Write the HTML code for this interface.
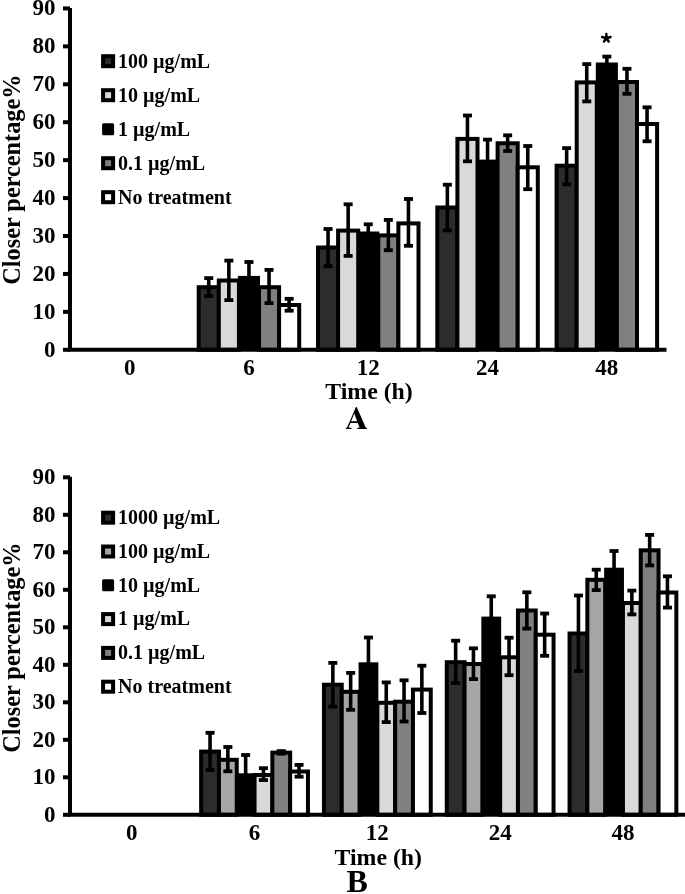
<!DOCTYPE html>
<html><head><meta charset="utf-8"><style>
html,body{margin:0;padding:0;background:#fff;}
svg{display:block;will-change:transform;}
text{font-family:"Liberation Serif", serif;font-weight:bold;fill:#000;}
</style></head><body>
<svg width="685" height="894" viewBox="0 0 685 894">
<rect width="685" height="894" fill="#fff"/>
<rect x="198.70" y="287.20" width="20.10" height="62.60" fill="#2c2c2c" stroke="#000" stroke-width="4"/>
<rect x="218.80" y="280.50" width="20.10" height="69.30" fill="#d9d9d9" stroke="#000" stroke-width="4"/>
<rect x="238.90" y="276.90" width="20.10" height="72.90" fill="#000000" stroke="#000" stroke-width="2"/>
<rect x="259.00" y="287.20" width="20.10" height="62.60" fill="#808080" stroke="#000" stroke-width="4"/>
<rect x="279.10" y="305.00" width="20.10" height="44.80" fill="#ffffff" stroke="#000" stroke-width="4"/>
<line x1="208.75" y1="278.10" x2="208.75" y2="296.10" stroke="#000" stroke-width="3.6"/>
<line x1="204.25" y1="278.10" x2="213.25" y2="278.10" stroke="#000" stroke-width="3.8"/>
<line x1="204.25" y1="296.10" x2="213.25" y2="296.10" stroke="#000" stroke-width="3.8"/>
<line x1="228.85" y1="260.60" x2="228.85" y2="300.10" stroke="#000" stroke-width="3.6"/>
<line x1="224.35" y1="260.60" x2="233.35" y2="260.60" stroke="#000" stroke-width="3.8"/>
<line x1="224.35" y1="300.10" x2="233.35" y2="300.10" stroke="#000" stroke-width="3.8"/>
<line x1="248.95" y1="262.00" x2="248.95" y2="293.50" stroke="#000" stroke-width="3.6"/>
<line x1="244.45" y1="262.00" x2="253.45" y2="262.00" stroke="#000" stroke-width="3.8"/>
<line x1="244.45" y1="293.50" x2="253.45" y2="293.50" stroke="#000" stroke-width="3.8"/>
<line x1="269.05" y1="269.90" x2="269.05" y2="303.10" stroke="#000" stroke-width="3.6"/>
<line x1="264.55" y1="269.90" x2="273.55" y2="269.90" stroke="#000" stroke-width="3.8"/>
<line x1="264.55" y1="303.10" x2="273.55" y2="303.10" stroke="#000" stroke-width="3.8"/>
<line x1="289.15" y1="298.80" x2="289.15" y2="310.70" stroke="#000" stroke-width="3.6"/>
<line x1="284.65" y1="298.80" x2="293.65" y2="298.80" stroke="#000" stroke-width="3.8"/>
<line x1="284.65" y1="310.70" x2="293.65" y2="310.70" stroke="#000" stroke-width="3.8"/>
<rect x="318.00" y="247.50" width="20.10" height="102.30" fill="#2c2c2c" stroke="#000" stroke-width="4"/>
<rect x="338.10" y="230.60" width="20.10" height="119.20" fill="#d9d9d9" stroke="#000" stroke-width="4"/>
<rect x="358.20" y="232.50" width="20.10" height="117.30" fill="#000000" stroke="#000" stroke-width="2"/>
<rect x="378.30" y="235.40" width="20.10" height="114.40" fill="#808080" stroke="#000" stroke-width="4"/>
<rect x="398.40" y="223.40" width="20.10" height="126.40" fill="#ffffff" stroke="#000" stroke-width="4"/>
<line x1="328.05" y1="229.00" x2="328.05" y2="266.20" stroke="#000" stroke-width="3.6"/>
<line x1="323.55" y1="229.00" x2="332.55" y2="229.00" stroke="#000" stroke-width="3.8"/>
<line x1="323.55" y1="266.20" x2="332.55" y2="266.20" stroke="#000" stroke-width="3.8"/>
<line x1="348.15" y1="204.30" x2="348.15" y2="255.90" stroke="#000" stroke-width="3.6"/>
<line x1="343.65" y1="204.30" x2="352.65" y2="204.30" stroke="#000" stroke-width="3.8"/>
<line x1="343.65" y1="255.90" x2="352.65" y2="255.90" stroke="#000" stroke-width="3.8"/>
<line x1="368.25" y1="224.30" x2="368.25" y2="242.70" stroke="#000" stroke-width="3.6"/>
<line x1="363.75" y1="224.30" x2="372.75" y2="224.30" stroke="#000" stroke-width="3.8"/>
<line x1="363.75" y1="242.70" x2="372.75" y2="242.70" stroke="#000" stroke-width="3.8"/>
<line x1="388.35" y1="219.90" x2="388.35" y2="250.20" stroke="#000" stroke-width="3.6"/>
<line x1="383.85" y1="219.90" x2="392.85" y2="219.90" stroke="#000" stroke-width="3.8"/>
<line x1="383.85" y1="250.20" x2="392.85" y2="250.20" stroke="#000" stroke-width="3.8"/>
<line x1="408.45" y1="199.00" x2="408.45" y2="245.80" stroke="#000" stroke-width="3.6"/>
<line x1="403.95" y1="199.00" x2="412.95" y2="199.00" stroke="#000" stroke-width="3.8"/>
<line x1="403.95" y1="245.80" x2="412.95" y2="245.80" stroke="#000" stroke-width="3.8"/>
<rect x="437.30" y="207.50" width="20.10" height="142.30" fill="#2c2c2c" stroke="#000" stroke-width="4"/>
<rect x="457.40" y="138.90" width="20.10" height="210.90" fill="#d9d9d9" stroke="#000" stroke-width="4"/>
<rect x="477.50" y="160.60" width="20.10" height="189.20" fill="#000000" stroke="#000" stroke-width="2"/>
<rect x="497.60" y="143.30" width="20.10" height="206.50" fill="#808080" stroke="#000" stroke-width="4"/>
<rect x="517.70" y="167.30" width="20.10" height="182.50" fill="#ffffff" stroke="#000" stroke-width="4"/>
<line x1="447.35" y1="184.70" x2="447.35" y2="230.40" stroke="#000" stroke-width="3.6"/>
<line x1="442.85" y1="184.70" x2="451.85" y2="184.70" stroke="#000" stroke-width="3.8"/>
<line x1="442.85" y1="230.40" x2="451.85" y2="230.40" stroke="#000" stroke-width="3.8"/>
<line x1="467.45" y1="115.50" x2="467.45" y2="161.30" stroke="#000" stroke-width="3.6"/>
<line x1="462.95" y1="115.50" x2="471.95" y2="115.50" stroke="#000" stroke-width="3.8"/>
<line x1="462.95" y1="161.30" x2="471.95" y2="161.30" stroke="#000" stroke-width="3.8"/>
<line x1="487.55" y1="139.60" x2="487.55" y2="182.70" stroke="#000" stroke-width="3.6"/>
<line x1="483.05" y1="139.60" x2="492.05" y2="139.60" stroke="#000" stroke-width="3.8"/>
<line x1="483.05" y1="182.70" x2="492.05" y2="182.70" stroke="#000" stroke-width="3.8"/>
<line x1="507.65" y1="135.30" x2="507.65" y2="151.00" stroke="#000" stroke-width="3.6"/>
<line x1="503.15" y1="135.30" x2="512.15" y2="135.30" stroke="#000" stroke-width="3.8"/>
<line x1="503.15" y1="151.00" x2="512.15" y2="151.00" stroke="#000" stroke-width="3.8"/>
<line x1="527.75" y1="146.00" x2="527.75" y2="189.20" stroke="#000" stroke-width="3.6"/>
<line x1="523.25" y1="146.00" x2="532.25" y2="146.00" stroke="#000" stroke-width="3.8"/>
<line x1="523.25" y1="189.20" x2="532.25" y2="189.20" stroke="#000" stroke-width="3.8"/>
<rect x="556.60" y="165.70" width="20.10" height="184.10" fill="#2c2c2c" stroke="#000" stroke-width="4"/>
<rect x="576.70" y="82.40" width="20.10" height="267.40" fill="#d9d9d9" stroke="#000" stroke-width="4"/>
<rect x="596.80" y="63.50" width="20.10" height="286.30" fill="#000000" stroke="#000" stroke-width="2"/>
<rect x="616.90" y="82.00" width="20.10" height="267.80" fill="#808080" stroke="#000" stroke-width="4"/>
<rect x="637.00" y="124.00" width="20.10" height="225.80" fill="#ffffff" stroke="#000" stroke-width="4"/>
<line x1="566.65" y1="148.10" x2="566.65" y2="184.40" stroke="#000" stroke-width="3.6"/>
<line x1="562.15" y1="148.10" x2="571.15" y2="148.10" stroke="#000" stroke-width="3.8"/>
<line x1="562.15" y1="184.40" x2="571.15" y2="184.40" stroke="#000" stroke-width="3.8"/>
<line x1="586.75" y1="64.10" x2="586.75" y2="101.40" stroke="#000" stroke-width="3.6"/>
<line x1="582.25" y1="64.10" x2="591.25" y2="64.10" stroke="#000" stroke-width="3.8"/>
<line x1="582.25" y1="101.40" x2="591.25" y2="101.40" stroke="#000" stroke-width="3.8"/>
<line x1="606.85" y1="56.60" x2="606.85" y2="72.70" stroke="#000" stroke-width="3.6"/>
<line x1="602.35" y1="56.60" x2="611.35" y2="56.60" stroke="#000" stroke-width="3.8"/>
<line x1="602.35" y1="72.70" x2="611.35" y2="72.70" stroke="#000" stroke-width="3.8"/>
<line x1="626.95" y1="68.80" x2="626.95" y2="93.80" stroke="#000" stroke-width="3.6"/>
<line x1="622.45" y1="68.80" x2="631.45" y2="68.80" stroke="#000" stroke-width="3.8"/>
<line x1="622.45" y1="93.80" x2="631.45" y2="93.80" stroke="#000" stroke-width="3.8"/>
<line x1="647.05" y1="107.30" x2="647.05" y2="141.30" stroke="#000" stroke-width="3.6"/>
<line x1="642.55" y1="107.30" x2="651.55" y2="107.30" stroke="#000" stroke-width="3.8"/>
<line x1="642.55" y1="141.30" x2="651.55" y2="141.30" stroke="#000" stroke-width="3.8"/>
<line x1="70" y1="7.90" x2="70" y2="349.80" stroke="#000" stroke-width="4"/>
<line x1="68.00" y1="349.8" x2="666.5" y2="349.8" stroke="#000" stroke-width="4"/>
<line x1="63" y1="349.80" x2="70" y2="349.80" stroke="#000" stroke-width="4"/>
<text x="55.5" y="356.80" text-anchor="end" font-size="23">0</text>
<line x1="63" y1="311.87" x2="70" y2="311.87" stroke="#000" stroke-width="4"/>
<text x="55.5" y="318.87" text-anchor="end" font-size="23">10</text>
<line x1="63" y1="273.94" x2="70" y2="273.94" stroke="#000" stroke-width="4"/>
<text x="55.5" y="280.94" text-anchor="end" font-size="23">20</text>
<line x1="63" y1="236.01" x2="70" y2="236.01" stroke="#000" stroke-width="4"/>
<text x="55.5" y="243.01" text-anchor="end" font-size="23">30</text>
<line x1="63" y1="198.08" x2="70" y2="198.08" stroke="#000" stroke-width="4"/>
<text x="55.5" y="205.08" text-anchor="end" font-size="23">40</text>
<line x1="63" y1="160.15" x2="70" y2="160.15" stroke="#000" stroke-width="4"/>
<text x="55.5" y="167.15" text-anchor="end" font-size="23">50</text>
<line x1="63" y1="122.22" x2="70" y2="122.22" stroke="#000" stroke-width="4"/>
<text x="55.5" y="129.22" text-anchor="end" font-size="23">60</text>
<line x1="63" y1="84.29" x2="70" y2="84.29" stroke="#000" stroke-width="4"/>
<text x="55.5" y="91.29" text-anchor="end" font-size="23">70</text>
<line x1="63" y1="46.36" x2="70" y2="46.36" stroke="#000" stroke-width="4"/>
<text x="55.5" y="53.36" text-anchor="end" font-size="23">80</text>
<line x1="63" y1="8.43" x2="70" y2="8.43" stroke="#000" stroke-width="4"/>
<text x="55.5" y="15.43" text-anchor="end" font-size="23">90</text>
<text x="129.65" y="374.5" text-anchor="middle" font-size="23">0</text>
<text x="248.95" y="374.5" text-anchor="middle" font-size="23">6</text>
<text x="368.25" y="374.5" text-anchor="middle" font-size="23">12</text>
<text x="487.55" y="374.5" text-anchor="middle" font-size="23">24</text>
<text x="606.85" y="374.5" text-anchor="middle" font-size="23">48</text>
<rect x="103.10" y="56.20" width="10.00" height="10.00" fill="#2c2c2c" stroke="#000" stroke-width="4"/>
<text x="118.1" y="67.90" font-size="20">100 µg/mL</text>
<rect x="103.10" y="90.20" width="10.00" height="10.00" fill="#d9d9d9" stroke="#000" stroke-width="4"/>
<text x="118.1" y="101.90" font-size="20">10 µg/mL</text>
<rect x="102.10" y="123.20" width="12" height="12" rx="1.5" fill="#000"/>
<text x="118.1" y="135.90" font-size="20">1 µg/mL</text>
<rect x="103.10" y="158.20" width="10.00" height="10.00" fill="#808080" stroke="#000" stroke-width="4"/>
<text x="118.1" y="169.90" font-size="20">0.1 µg/mL</text>
<rect x="103.10" y="192.20" width="10.00" height="10.00" fill="#ffffff" stroke="#000" stroke-width="4"/>
<text x="118.1" y="203.90" font-size="20">No treatment</text>
<text x="369" y="399.0" text-anchor="middle" font-size="23.8">Time (h)</text>
<text transform="translate(20.4,179.6) rotate(-90)" text-anchor="middle" font-size="24.3">Closer percentage%</text>
<path fill="#000" fill-rule="evenodd" d="M355.9,407.0 L356.7,407.0 L365.7,427.6 L366.9,428.1 L366.9,428.9 L357.2,428.9 L357.2,428.1 L359.6,427.6 L357.7,422.9 L350.5,422.9 L348.6,427.6 L351.5,428.1 L351.5,428.9 L345.9,428.9 L345.9,428.1 L347.1,427.6 Z M354.3,413.6 L357.1,421.3 L351.14,421.3 Z"/>
<path d="M606.35,38.30 L606.35,33.90 M606.35,38.30 L610.53,36.94 M606.35,38.30 L608.70,41.54 M606.35,38.30 L604.00,41.54 M606.35,38.30 L602.17,36.94" stroke="#000" stroke-width="2.5" stroke-linecap="round" fill="none"/>
<rect x="201.15" y="751.60" width="17.80" height="63.20" fill="#2c2c2c" stroke="#000" stroke-width="4"/>
<rect x="218.95" y="759.80" width="17.80" height="55.00" fill="#a6a6a6" stroke="#000" stroke-width="4"/>
<rect x="236.75" y="774.30" width="17.80" height="40.50" fill="#000000" stroke="#000" stroke-width="2"/>
<rect x="254.55" y="775.00" width="17.80" height="39.80" fill="#d9d9d9" stroke="#000" stroke-width="4"/>
<rect x="272.35" y="752.60" width="17.80" height="62.20" fill="#808080" stroke="#000" stroke-width="4"/>
<rect x="290.15" y="771.50" width="17.80" height="43.30" fill="#ffffff" stroke="#000" stroke-width="4"/>
<line x1="210.05" y1="732.80" x2="210.05" y2="770.00" stroke="#000" stroke-width="3.6"/>
<line x1="205.55" y1="732.80" x2="214.55" y2="732.80" stroke="#000" stroke-width="3.8"/>
<line x1="205.55" y1="770.00" x2="214.55" y2="770.00" stroke="#000" stroke-width="3.8"/>
<line x1="227.85" y1="747.00" x2="227.85" y2="771.30" stroke="#000" stroke-width="3.6"/>
<line x1="223.35" y1="747.00" x2="232.35" y2="747.00" stroke="#000" stroke-width="3.8"/>
<line x1="223.35" y1="771.30" x2="232.35" y2="771.30" stroke="#000" stroke-width="3.8"/>
<line x1="245.65" y1="755.00" x2="245.65" y2="794.70" stroke="#000" stroke-width="3.6"/>
<line x1="241.15" y1="755.00" x2="250.15" y2="755.00" stroke="#000" stroke-width="3.8"/>
<line x1="241.15" y1="794.70" x2="250.15" y2="794.70" stroke="#000" stroke-width="3.8"/>
<line x1="263.45" y1="768.20" x2="263.45" y2="780.10" stroke="#000" stroke-width="3.6"/>
<line x1="258.95" y1="768.20" x2="267.95" y2="768.20" stroke="#000" stroke-width="3.8"/>
<line x1="258.95" y1="780.10" x2="267.95" y2="780.10" stroke="#000" stroke-width="3.8"/>
<line x1="281.25" y1="751.10" x2="281.25" y2="753.70" stroke="#000" stroke-width="3.6"/>
<line x1="276.75" y1="751.10" x2="285.75" y2="751.10" stroke="#000" stroke-width="3.8"/>
<line x1="276.75" y1="753.70" x2="285.75" y2="753.70" stroke="#000" stroke-width="3.8"/>
<line x1="299.05" y1="764.90" x2="299.05" y2="776.70" stroke="#000" stroke-width="3.6"/>
<line x1="294.55" y1="764.90" x2="303.55" y2="764.90" stroke="#000" stroke-width="3.8"/>
<line x1="294.55" y1="776.70" x2="303.55" y2="776.70" stroke="#000" stroke-width="3.8"/>
<rect x="323.95" y="684.70" width="17.80" height="130.10" fill="#2c2c2c" stroke="#000" stroke-width="4"/>
<rect x="341.75" y="691.80" width="17.80" height="123.00" fill="#a6a6a6" stroke="#000" stroke-width="4"/>
<rect x="359.55" y="663.30" width="17.80" height="151.50" fill="#000000" stroke="#000" stroke-width="2"/>
<rect x="377.35" y="702.80" width="17.80" height="112.00" fill="#d9d9d9" stroke="#000" stroke-width="4"/>
<rect x="395.15" y="701.70" width="17.80" height="113.10" fill="#808080" stroke="#000" stroke-width="4"/>
<rect x="412.95" y="689.60" width="17.80" height="125.20" fill="#ffffff" stroke="#000" stroke-width="4"/>
<line x1="332.85" y1="662.90" x2="332.85" y2="706.60" stroke="#000" stroke-width="3.6"/>
<line x1="328.35" y1="662.90" x2="337.35" y2="662.90" stroke="#000" stroke-width="3.8"/>
<line x1="328.35" y1="706.60" x2="337.35" y2="706.60" stroke="#000" stroke-width="3.8"/>
<line x1="350.65" y1="672.90" x2="350.65" y2="709.80" stroke="#000" stroke-width="3.6"/>
<line x1="346.15" y1="672.90" x2="355.15" y2="672.90" stroke="#000" stroke-width="3.8"/>
<line x1="346.15" y1="709.80" x2="355.15" y2="709.80" stroke="#000" stroke-width="3.8"/>
<line x1="368.45" y1="637.50" x2="368.45" y2="689.70" stroke="#000" stroke-width="3.6"/>
<line x1="363.95" y1="637.50" x2="372.95" y2="637.50" stroke="#000" stroke-width="3.8"/>
<line x1="363.95" y1="689.70" x2="372.95" y2="689.70" stroke="#000" stroke-width="3.8"/>
<line x1="386.25" y1="682.40" x2="386.25" y2="722.10" stroke="#000" stroke-width="3.6"/>
<line x1="381.75" y1="682.40" x2="390.75" y2="682.40" stroke="#000" stroke-width="3.8"/>
<line x1="381.75" y1="722.10" x2="390.75" y2="722.10" stroke="#000" stroke-width="3.8"/>
<line x1="404.05" y1="680.30" x2="404.05" y2="721.50" stroke="#000" stroke-width="3.6"/>
<line x1="399.55" y1="680.30" x2="408.55" y2="680.30" stroke="#000" stroke-width="3.8"/>
<line x1="399.55" y1="721.50" x2="408.55" y2="721.50" stroke="#000" stroke-width="3.8"/>
<line x1="421.85" y1="665.70" x2="421.85" y2="713.00" stroke="#000" stroke-width="3.6"/>
<line x1="417.35" y1="665.70" x2="426.35" y2="665.70" stroke="#000" stroke-width="3.8"/>
<line x1="417.35" y1="713.00" x2="426.35" y2="713.00" stroke="#000" stroke-width="3.8"/>
<rect x="446.75" y="662.20" width="17.80" height="152.60" fill="#2c2c2c" stroke="#000" stroke-width="4"/>
<rect x="464.55" y="664.00" width="17.80" height="150.80" fill="#a6a6a6" stroke="#000" stroke-width="4"/>
<rect x="482.35" y="617.60" width="17.80" height="197.20" fill="#000000" stroke="#000" stroke-width="2"/>
<rect x="500.15" y="657.30" width="17.80" height="157.50" fill="#d9d9d9" stroke="#000" stroke-width="4"/>
<rect x="517.95" y="610.50" width="17.80" height="204.30" fill="#808080" stroke="#000" stroke-width="4"/>
<rect x="535.75" y="634.70" width="17.80" height="180.10" fill="#ffffff" stroke="#000" stroke-width="4"/>
<line x1="455.65" y1="640.70" x2="455.65" y2="683.00" stroke="#000" stroke-width="3.6"/>
<line x1="451.15" y1="640.70" x2="460.15" y2="640.70" stroke="#000" stroke-width="3.8"/>
<line x1="451.15" y1="683.00" x2="460.15" y2="683.00" stroke="#000" stroke-width="3.8"/>
<line x1="473.45" y1="648.30" x2="473.45" y2="679.10" stroke="#000" stroke-width="3.6"/>
<line x1="468.95" y1="648.30" x2="477.95" y2="648.30" stroke="#000" stroke-width="3.8"/>
<line x1="468.95" y1="679.10" x2="477.95" y2="679.10" stroke="#000" stroke-width="3.8"/>
<line x1="491.25" y1="596.30" x2="491.25" y2="641.70" stroke="#000" stroke-width="3.6"/>
<line x1="486.75" y1="596.30" x2="495.75" y2="596.30" stroke="#000" stroke-width="3.8"/>
<line x1="486.75" y1="641.70" x2="495.75" y2="641.70" stroke="#000" stroke-width="3.8"/>
<line x1="509.05" y1="637.70" x2="509.05" y2="675.20" stroke="#000" stroke-width="3.6"/>
<line x1="504.55" y1="637.70" x2="513.55" y2="637.70" stroke="#000" stroke-width="3.8"/>
<line x1="504.55" y1="675.20" x2="513.55" y2="675.20" stroke="#000" stroke-width="3.8"/>
<line x1="526.85" y1="592.30" x2="526.85" y2="628.60" stroke="#000" stroke-width="3.6"/>
<line x1="522.35" y1="592.30" x2="531.35" y2="592.30" stroke="#000" stroke-width="3.8"/>
<line x1="522.35" y1="628.60" x2="531.35" y2="628.60" stroke="#000" stroke-width="3.8"/>
<line x1="544.65" y1="613.50" x2="544.65" y2="655.80" stroke="#000" stroke-width="3.6"/>
<line x1="540.15" y1="613.50" x2="549.15" y2="613.50" stroke="#000" stroke-width="3.8"/>
<line x1="540.15" y1="655.80" x2="549.15" y2="655.80" stroke="#000" stroke-width="3.8"/>
<rect x="569.55" y="633.50" width="17.80" height="181.30" fill="#2c2c2c" stroke="#000" stroke-width="4"/>
<rect x="587.35" y="579.80" width="17.80" height="235.00" fill="#a6a6a6" stroke="#000" stroke-width="4"/>
<rect x="605.15" y="568.70" width="17.80" height="246.10" fill="#000000" stroke="#000" stroke-width="2"/>
<rect x="622.95" y="603.00" width="17.80" height="211.80" fill="#d9d9d9" stroke="#000" stroke-width="4"/>
<rect x="640.75" y="550.30" width="17.80" height="264.50" fill="#808080" stroke="#000" stroke-width="4"/>
<rect x="658.55" y="592.50" width="17.80" height="222.30" fill="#ffffff" stroke="#000" stroke-width="4"/>
<line x1="578.45" y1="595.50" x2="578.45" y2="671.00" stroke="#000" stroke-width="3.6"/>
<line x1="573.95" y1="595.50" x2="582.95" y2="595.50" stroke="#000" stroke-width="3.8"/>
<line x1="573.95" y1="671.00" x2="582.95" y2="671.00" stroke="#000" stroke-width="3.8"/>
<line x1="596.25" y1="569.70" x2="596.25" y2="590.10" stroke="#000" stroke-width="3.6"/>
<line x1="591.75" y1="569.70" x2="600.75" y2="569.70" stroke="#000" stroke-width="3.8"/>
<line x1="591.75" y1="590.10" x2="600.75" y2="590.10" stroke="#000" stroke-width="3.8"/>
<line x1="614.05" y1="551.00" x2="614.05" y2="589.70" stroke="#000" stroke-width="3.6"/>
<line x1="609.55" y1="551.00" x2="618.55" y2="551.00" stroke="#000" stroke-width="3.8"/>
<line x1="609.55" y1="589.70" x2="618.55" y2="589.70" stroke="#000" stroke-width="3.8"/>
<line x1="631.85" y1="590.60" x2="631.85" y2="614.40" stroke="#000" stroke-width="3.6"/>
<line x1="627.35" y1="590.60" x2="636.35" y2="590.60" stroke="#000" stroke-width="3.8"/>
<line x1="627.35" y1="614.40" x2="636.35" y2="614.40" stroke="#000" stroke-width="3.8"/>
<line x1="649.65" y1="534.90" x2="649.65" y2="565.40" stroke="#000" stroke-width="3.6"/>
<line x1="645.15" y1="534.90" x2="654.15" y2="534.90" stroke="#000" stroke-width="3.8"/>
<line x1="645.15" y1="565.40" x2="654.15" y2="565.40" stroke="#000" stroke-width="3.8"/>
<line x1="667.45" y1="576.30" x2="667.45" y2="607.60" stroke="#000" stroke-width="3.6"/>
<line x1="662.95" y1="576.30" x2="671.95" y2="576.30" stroke="#000" stroke-width="3.8"/>
<line x1="662.95" y1="607.60" x2="671.95" y2="607.60" stroke="#000" stroke-width="3.8"/>
<line x1="70" y1="476.80" x2="70" y2="814.80" stroke="#000" stroke-width="4"/>
<line x1="68.00" y1="814.8" x2="686" y2="814.8" stroke="#000" stroke-width="4"/>
<line x1="63" y1="814.80" x2="70" y2="814.80" stroke="#000" stroke-width="4"/>
<text x="55.5" y="821.80" text-anchor="end" font-size="23">0</text>
<line x1="63" y1="777.30" x2="70" y2="777.30" stroke="#000" stroke-width="4"/>
<text x="55.5" y="784.30" text-anchor="end" font-size="23">10</text>
<line x1="63" y1="739.80" x2="70" y2="739.80" stroke="#000" stroke-width="4"/>
<text x="55.5" y="746.80" text-anchor="end" font-size="23">20</text>
<line x1="63" y1="702.30" x2="70" y2="702.30" stroke="#000" stroke-width="4"/>
<text x="55.5" y="709.30" text-anchor="end" font-size="23">30</text>
<line x1="63" y1="664.80" x2="70" y2="664.80" stroke="#000" stroke-width="4"/>
<text x="55.5" y="671.80" text-anchor="end" font-size="23">40</text>
<line x1="63" y1="627.30" x2="70" y2="627.30" stroke="#000" stroke-width="4"/>
<text x="55.5" y="634.30" text-anchor="end" font-size="23">50</text>
<line x1="63" y1="589.80" x2="70" y2="589.80" stroke="#000" stroke-width="4"/>
<text x="55.5" y="596.80" text-anchor="end" font-size="23">60</text>
<line x1="63" y1="552.30" x2="70" y2="552.30" stroke="#000" stroke-width="4"/>
<text x="55.5" y="559.30" text-anchor="end" font-size="23">70</text>
<line x1="63" y1="514.80" x2="70" y2="514.80" stroke="#000" stroke-width="4"/>
<text x="55.5" y="521.80" text-anchor="end" font-size="23">80</text>
<line x1="63" y1="477.30" x2="70" y2="477.30" stroke="#000" stroke-width="4"/>
<text x="55.5" y="484.30" text-anchor="end" font-size="23">90</text>
<text x="131.75" y="840.2" text-anchor="middle" font-size="23">0</text>
<text x="254.55" y="840.2" text-anchor="middle" font-size="23">6</text>
<text x="377.35" y="840.2" text-anchor="middle" font-size="23">12</text>
<text x="500.15" y="840.2" text-anchor="middle" font-size="23">24</text>
<text x="622.95" y="840.2" text-anchor="middle" font-size="23">48</text>
<rect x="103.10" y="512.70" width="10.00" height="10.00" fill="#2c2c2c" stroke="#000" stroke-width="4"/>
<text x="118.1" y="523.90" font-size="20">1000 µg/mL</text>
<rect x="103.10" y="546.50" width="10.00" height="10.00" fill="#a6a6a6" stroke="#000" stroke-width="4"/>
<text x="118.1" y="557.70" font-size="20">100 µg/mL</text>
<rect x="102.10" y="579.30" width="12" height="12" rx="1.5" fill="#000"/>
<text x="118.1" y="591.50" font-size="20">10 µg/mL</text>
<rect x="103.10" y="614.10" width="10.00" height="10.00" fill="#d9d9d9" stroke="#000" stroke-width="4"/>
<text x="118.1" y="625.30" font-size="20">1 µg/mL</text>
<rect x="103.10" y="647.90" width="10.00" height="10.00" fill="#808080" stroke="#000" stroke-width="4"/>
<text x="118.1" y="659.10" font-size="20">0.1 µg/mL</text>
<rect x="103.10" y="681.70" width="10.00" height="10.00" fill="#ffffff" stroke="#000" stroke-width="4"/>
<text x="118.1" y="692.90" font-size="20">No treatment</text>
<text x="378.3" y="865.0" text-anchor="middle" font-size="23.8">Time (h)</text>
<text transform="translate(20.4,647.6) rotate(-90)" text-anchor="middle" font-size="24.3">Closer percentage%</text>
<text x="357.2" y="892.4" text-anchor="middle" font-size="32" style="font-weight:bold" stroke="#000" stroke-width="0">B</text>
</svg>
</body></html>
